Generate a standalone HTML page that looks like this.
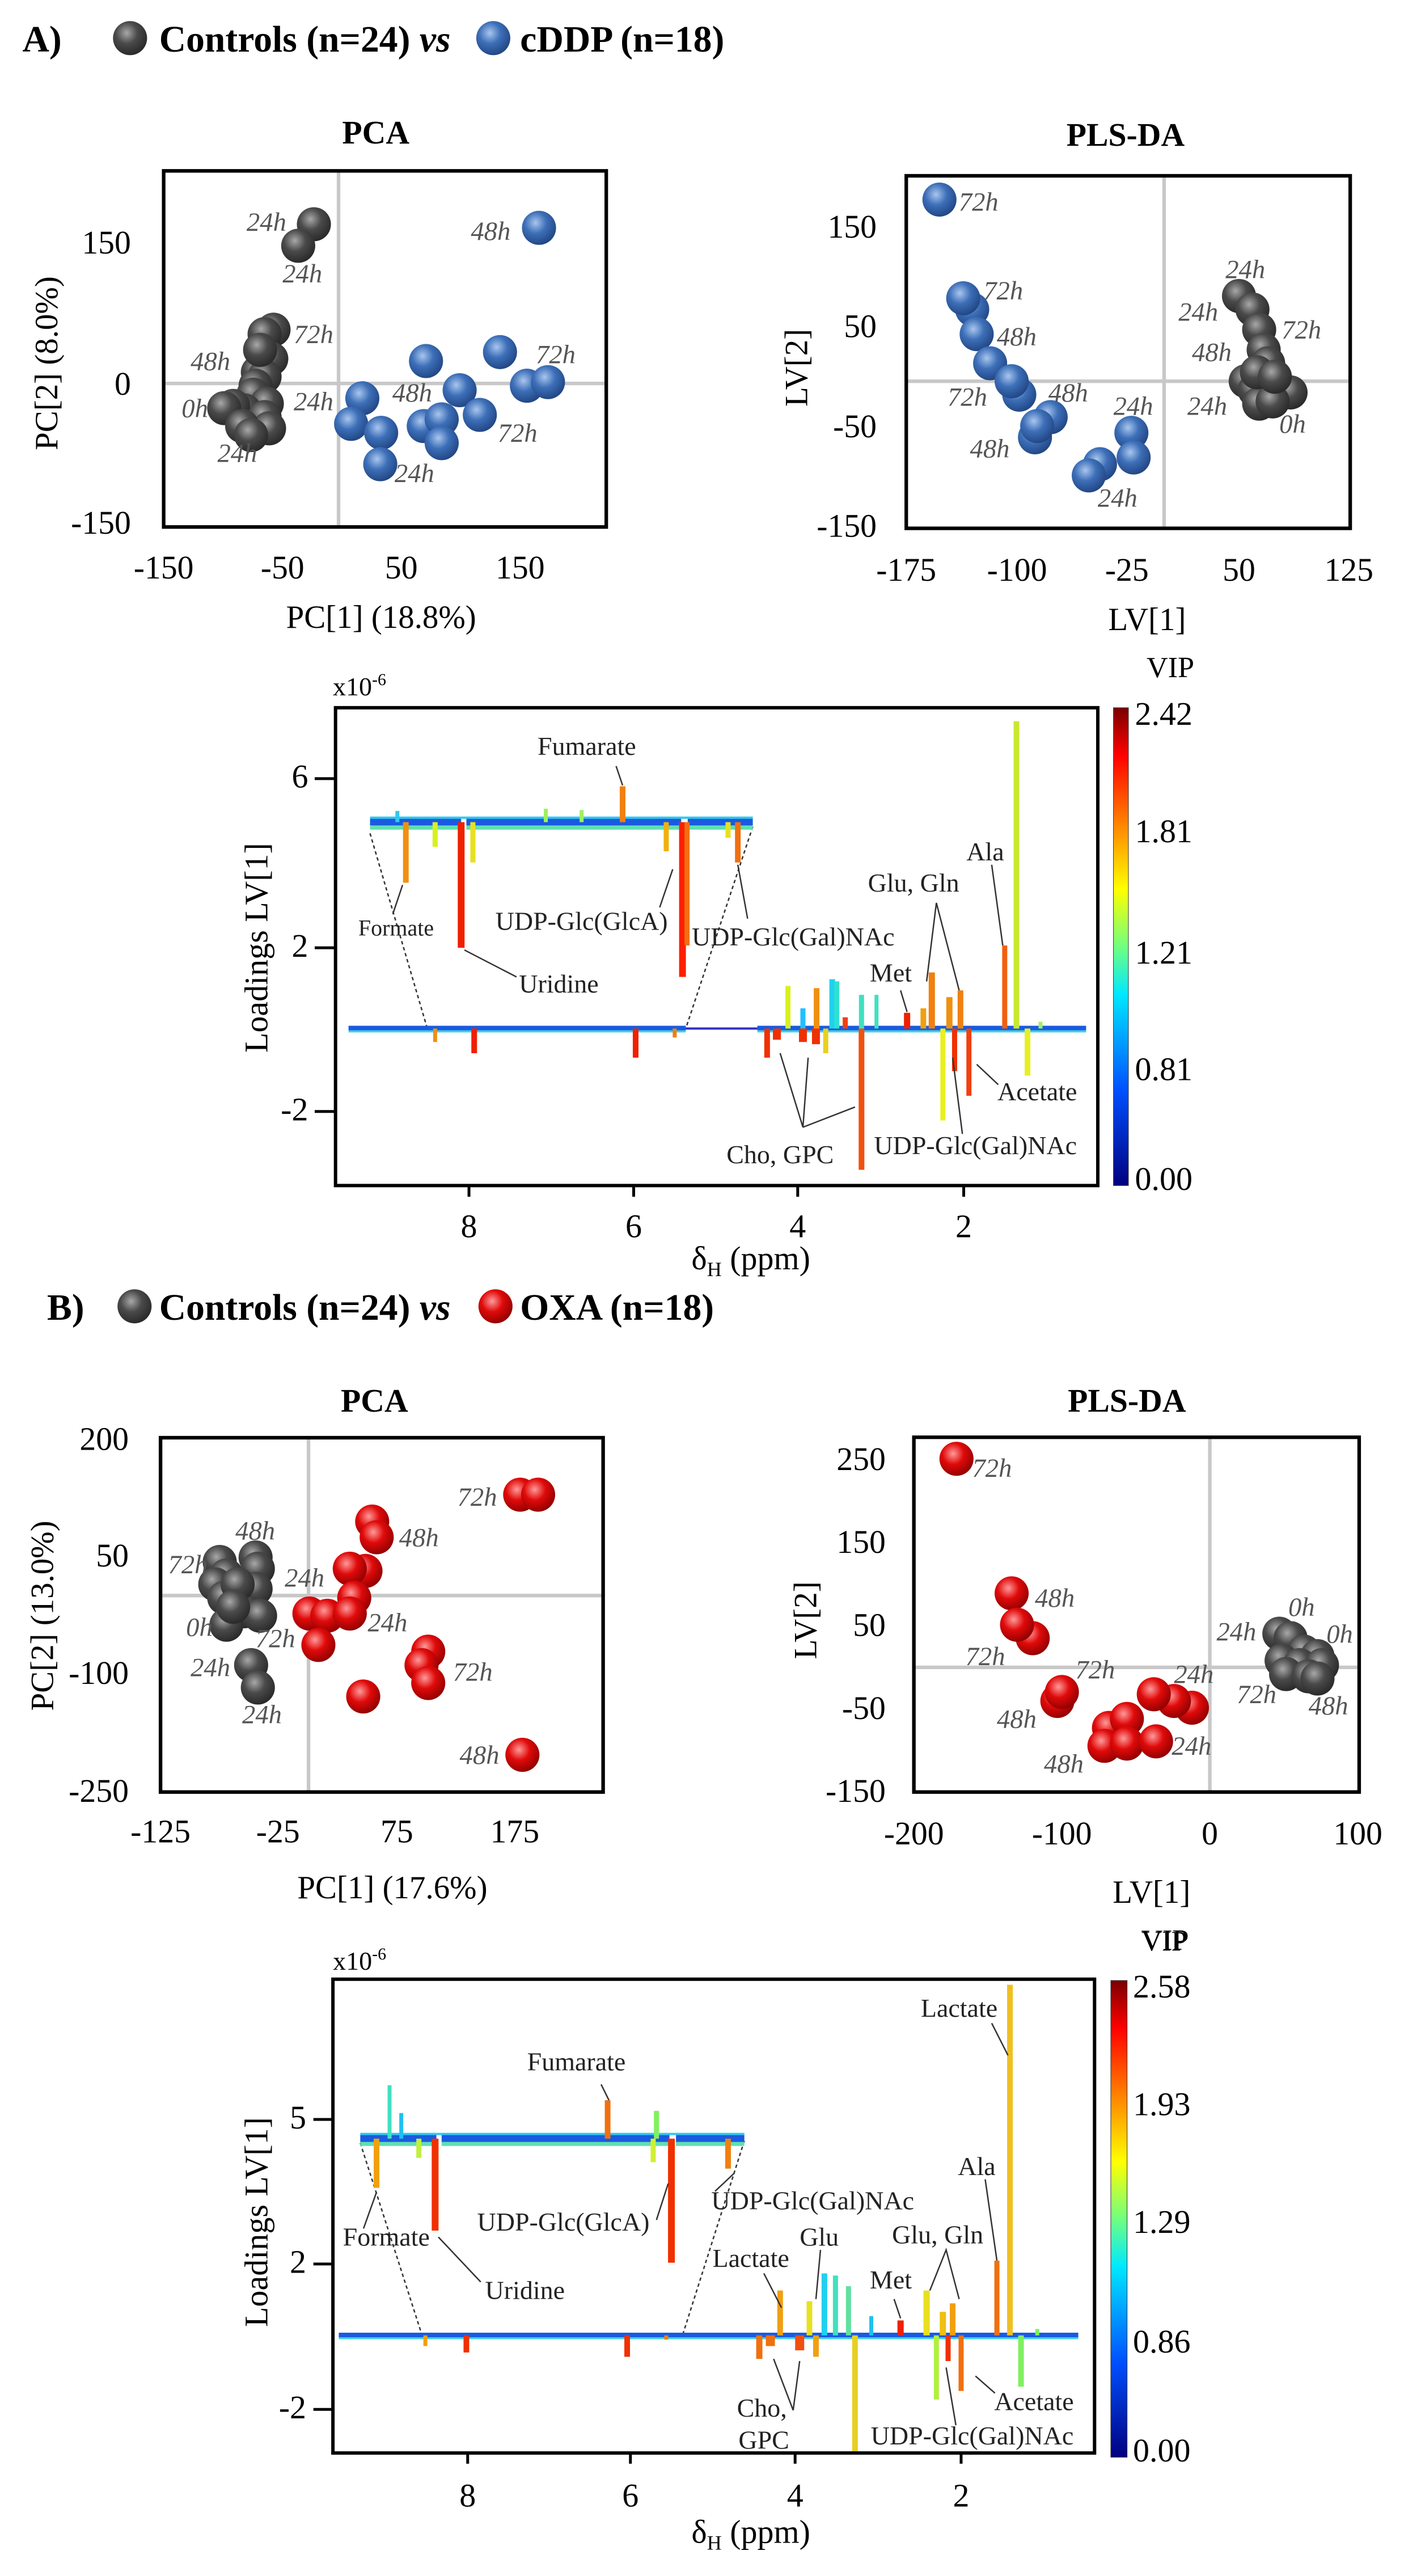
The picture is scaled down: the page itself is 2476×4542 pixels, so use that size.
<!DOCTYPE html>
<html><head><meta charset="utf-8"><style>
html,body{margin:0;padding:0;background:#fff}
svg{display:block;font-family:"Liberation Serif",serif}
</style></head><body>
<svg width="2476" height="4542" viewBox="0 0 2476 4542" xmlns="http://www.w3.org/2000/svg">
<defs>
<radialGradient id="gG" cx="0.4" cy="0.35" r="0.7"><stop offset="0" stop-color="#a8a8a8"/><stop offset="0.45" stop-color="#4a4a4a"/><stop offset="1" stop-color="#262626"/></radialGradient>
<radialGradient id="gB" cx="0.4" cy="0.35" r="0.7"><stop offset="0" stop-color="#a9c6ee"/><stop offset="0.45" stop-color="#3d6fb8"/><stop offset="1" stop-color="#1f427f"/></radialGradient>
<radialGradient id="gR" cx="0.4" cy="0.35" r="0.7"><stop offset="0" stop-color="#ff9a9a"/><stop offset="0.45" stop-color="#e00a0a"/><stop offset="1" stop-color="#8a0000"/></radialGradient>
<linearGradient id="jet" x1="0" y1="0" x2="0" y2="1">
<stop offset="0" stop-color="#7a0000"/><stop offset="0.1" stop-color="#ff0000"/><stop offset="0.25" stop-color="#ff8a00"/><stop offset="0.38" stop-color="#ffff00"/><stop offset="0.5" stop-color="#70ff80"/><stop offset="0.6" stop-color="#00e8ff"/><stop offset="0.8" stop-color="#0050ff"/><stop offset="1" stop-color="#000080"/>
</linearGradient>
<style>
.ns{vector-effect:non-scaling-stroke}
.pl{font-style:italic;fill:#555}
</style>
</defs>

<!-- ============ A header + PCA A (zoom2 coords) ============ -->
<g transform="scale(0.7908)">
<text x="50" y="115" font-size="83" font-weight="bold">A)</text>
<circle cx="290" cy="85" r="38" fill="url(#gG)"/>
<text x="355" y="115" font-size="83" font-weight="bold">Controls (n=24) <tspan font-style="italic">vs</tspan></text>
<circle cx="1100" cy="85" r="38" fill="url(#gB)"/>
<text x="1160" y="115" font-size="83" font-weight="bold">cDDP (n=18)</text>

<text x="838" y="320" font-size="73" font-weight="bold" text-anchor="middle">PCA</text>
<line x1="755" y1="381" x2="755" y2="1175" stroke="#c8c8c8" stroke-width="8"/>
<line x1="365" y1="855" x2="1352" y2="855" stroke="#c8c8c8" stroke-width="8"/>
<g font-size="73" text-anchor="middle">
<text x="365" y="1290">-150</text><text x="630" y="1290">-50</text><text x="895" y="1290">50</text><text x="1160" y="1290">150</text>
</g>
<g font-size="73" text-anchor="end">
<text x="292" y="565">150</text><text x="292" y="880">0</text><text x="292" y="1190">-150</text>
</g>
<text x="850" y="1400" font-size="72" text-anchor="middle">PC[1] (18.8%)</text>
<text transform="translate(128,810) rotate(-90)" font-size="72" text-anchor="middle">PC[2] (8.0%)</text>
<g>
<circle cx="700" cy="500" r="38" fill="url(#gG)"/><circle cx="665" cy="548" r="38" fill="url(#gG)"/>
<circle cx="610" cy="735" r="38" fill="url(#gG)"/><circle cx="590" cy="745" r="38" fill="url(#gG)"/>
<circle cx="605" cy="800" r="38" fill="url(#gG)"/><circle cx="575" cy="830" r="38" fill="url(#gG)"/>
<circle cx="590" cy="840" r="38" fill="url(#gG)"/><circle cx="580" cy="780" r="38" fill="url(#gG)"/>
<circle cx="570" cy="860" r="38" fill="url(#gG)"/><circle cx="565" cy="880" r="38" fill="url(#gG)"/>
<circle cx="595" cy="900" r="38" fill="url(#gG)"/><circle cx="545" cy="915" r="38" fill="url(#gG)"/>
<circle cx="520" cy="905" r="38" fill="url(#gG)"/><circle cx="500" cy="910" r="38" fill="url(#gG)"/>
<circle cx="590" cy="930" r="38" fill="url(#gG)"/><circle cx="600" cy="955" r="38" fill="url(#gG)"/>
<circle cx="540" cy="950" r="38" fill="url(#gG)"/><circle cx="560" cy="970" r="38" fill="url(#gG)"/>
<circle cx="1202" cy="508" r="38" fill="url(#gB)"/><circle cx="950" cy="805" r="38" fill="url(#gB)"/>
<circle cx="1115" cy="785" r="38" fill="url(#gB)"/><circle cx="1175" cy="860" r="38" fill="url(#gB)"/>
<circle cx="1222" cy="852" r="38" fill="url(#gB)"/><circle cx="1025" cy="870" r="38" fill="url(#gB)"/>
<circle cx="1070" cy="925" r="38" fill="url(#gB)"/><circle cx="945" cy="950" r="38" fill="url(#gB)"/>
<circle cx="985" cy="935" r="38" fill="url(#gB)"/><circle cx="985" cy="988" r="38" fill="url(#gB)"/>
<circle cx="808" cy="888" r="38" fill="url(#gB)"/><circle cx="783" cy="945" r="38" fill="url(#gB)"/>
<circle cx="850" cy="965" r="38" fill="url(#gB)"/><circle cx="848" cy="1035" r="38" fill="url(#gB)"/>
</g>
<g class="pl" font-size="59">
<text x="550" y="515">24h</text><text x="630" y="630">24h</text><text x="655" y="765">72h</text>
<text x="425" y="825">48h</text><text x="405" y="930">0h</text><text x="655" y="915">24h</text>
<text x="485" y="1030">24h</text><text x="1050" y="535">48h</text><text x="1195" y="810">72h</text>
<text x="875" y="895">48h</text><text x="1110" y="985">72h</text><text x="880" y="1075">24h</text>
</g>
<rect x="365" y="381" width="987" height="794" fill="none" stroke="#000" stroke-width="8"/>
</g>

<!-- ============ PLS-DA A (zoom3) ============ -->
<g transform="translate(1240,0) scale(0.7908)">
<text x="942" y="325" font-size="73" font-weight="bold" text-anchor="middle">PLS-DA</text>
<line x1="1028" y1="392" x2="1028" y2="1178" stroke="#c8c8c8" stroke-width="8"/>
<line x1="453" y1="850" x2="1443" y2="850" stroke="#c8c8c8" stroke-width="8"/>
<g font-size="73" text-anchor="middle">
<text x="453" y="1295">-175</text><text x="700" y="1295">-100</text><text x="945" y="1295">-25</text><text x="1195" y="1295">50</text><text x="1440" y="1295">125</text>
</g>
<g font-size="73" text-anchor="end">
<text x="387" y="530">150</text><text x="387" y="752">50</text><text x="387" y="975">-50</text><text x="387" y="1197">-150</text>
</g>
<text x="990" y="1405" font-size="72" text-anchor="middle">LV[1]</text>
<text transform="translate(232,820) rotate(-90)" font-size="72" text-anchor="middle">LV[2]</text>
<text x="1042" y="1510" font-size="66" text-anchor="middle">VIP</text>
<g>
<circle cx="1195" cy="660" r="38" fill="url(#gG)"/><circle cx="1225" cy="690" r="38" fill="url(#gG)"/>
<circle cx="1240" cy="735" r="38" fill="url(#gG)"/><circle cx="1250" cy="780" r="38" fill="url(#gG)"/>
<circle cx="1260" cy="810" r="38" fill="url(#gG)"/><circle cx="1210" cy="850" r="38" fill="url(#gG)"/>
<circle cx="1230" cy="870" r="38" fill="url(#gG)"/><circle cx="1260" cy="880" r="38" fill="url(#gG)"/>
<circle cx="1290" cy="870" r="38" fill="url(#gG)"/><circle cx="1310" cy="875" r="38" fill="url(#gG)"/>
<circle cx="1240" cy="900" r="38" fill="url(#gG)"/><circle cx="1270" cy="895" r="38" fill="url(#gG)"/>
<circle cx="1235" cy="830" r="38" fill="url(#gG)"/><circle cx="1275" cy="840" r="38" fill="url(#gG)"/>
<circle cx="527" cy="445" r="38" fill="url(#gB)"/><circle cx="600" cy="690" r="38" fill="url(#gB)"/>
<circle cx="580" cy="665" r="38" fill="url(#gB)"/><circle cx="610" cy="745" r="38" fill="url(#gB)"/>
<circle cx="640" cy="810" r="38" fill="url(#gB)"/><circle cx="705" cy="880" r="38" fill="url(#gB)"/>
<circle cx="688" cy="850" r="38" fill="url(#gB)"/><circle cx="775" cy="930" r="38" fill="url(#gB)"/>
<circle cx="740" cy="975" r="38" fill="url(#gB)"/><circle cx="745" cy="950" r="38" fill="url(#gB)"/>
<circle cx="885" cy="1035" r="38" fill="url(#gB)"/><circle cx="860" cy="1060" r="38" fill="url(#gB)"/>
<circle cx="955" cy="965" r="38" fill="url(#gB)"/><circle cx="960" cy="1020" r="38" fill="url(#gB)"/>
</g>
<g class="pl" font-size="59">
<text x="570" y="470">72h</text><text x="625" y="668">72h</text><text x="655" y="770">48h</text>
<text x="545" y="905">72h</text><text x="770" y="895">48h</text><text x="595" y="1020">48h</text>
<text x="915" y="925">24h</text><text x="880" y="1130">24h</text><text x="1165" y="620">24h</text>
<text x="1060" y="715">24h</text><text x="1290" y="755">72h</text><text x="1090" y="805">48h</text>
<text x="1080" y="925">24h</text><text x="1285" y="965">0h</text>
</g>
<rect x="453" y="392" width="990" height="786" fill="none" stroke="#000" stroke-width="8"/>
</g>

<!-- ============ Loadings A ============ -->
<text x="587" y="1226" font-size="46">x10<tspan font-size="30" dy="-18">-6</tspan></text>
<g transform="translate(400,1240) scale(1.148,0.791)">
<g>
<line class="ns" x1="135" y1="168" x2="167" y2="168" stroke="#000" stroke-width="5"/><line class="ns" x1="135" y1="545" x2="167" y2="545" stroke="#000" stroke-width="5"/><line class="ns" x1="135" y1="910" x2="167" y2="910" stroke="#000" stroke-width="5"/>
<line class="ns" x1="372" y1="1075" x2="372" y2="1100" stroke="#000" stroke-width="5"/><line class="ns" x1="625" y1="1075" x2="625" y2="1100" stroke="#000" stroke-width="5"/><line class="ns" x1="877" y1="1075" x2="877" y2="1100" stroke="#000" stroke-width="5"/><line class="ns" x1="1132" y1="1075" x2="1132" y2="1100" stroke="#000" stroke-width="5"/>
</g>
<g font-size="58">
<text transform="translate(125,188) scale(0.871,1.264)" text-anchor="end">6</text>
<text transform="translate(125,565) scale(0.871,1.264)" text-anchor="end">2</text>
<text transform="translate(125,930) scale(0.871,1.264)" text-anchor="end">-2</text>
<text transform="translate(372,1190) scale(0.871,1.264)" text-anchor="middle">8</text>
<text transform="translate(625,1190) scale(0.871,1.264)" text-anchor="middle">6</text>
<text transform="translate(877,1190) scale(0.871,1.264)" text-anchor="middle">4</text>
<text transform="translate(1132,1190) scale(0.871,1.264)" text-anchor="middle">2</text>
<text transform="translate(805,1262) scale(0.871,1.264)" text-anchor="middle">δ<tspan font-size="36" dy="12">H</tspan><tspan dy="-12"> (ppm)</tspan></text>
<text transform="translate(45,545) scale(0.871,1.264) rotate(-90)" text-anchor="middle" dy="20">Loadings LV[1]</text>
<text transform="translate(1395,48) scale(0.871,1.264)">2.42</text>
<text transform="translate(1395,310) scale(0.871,1.264)">1.81</text>
<text transform="translate(1395,580) scale(0.871,1.264)">1.21</text>
<text transform="translate(1395,840) scale(0.871,1.264)">0.81</text>
<text transform="translate(1395,1085) scale(0.871,1.264)">0.00</text>
</g>
<rect x="1362" y="10" width="23" height="1065" fill="url(#jet)" stroke="#333" stroke-width="1" class="ns"/>
<line class="ns" x1="220" y1="290" x2="308" y2="725" stroke="#333" stroke-width="2.5" stroke-dasharray="6,5"/>
<line class="ns" x1="808" y1="275" x2="705" y2="725" stroke="#333" stroke-width="2.5" stroke-dasharray="6,5"/>
<g>
<line class="ns" x1="220" y1="276" x2="360" y2="276" stroke="#5fe0b0" stroke-width="9"/>
<line class="ns" x1="368" y1="276" x2="698" y2="276" stroke="#5fe0b0" stroke-width="9"/>
<line class="ns" x1="708" y1="276" x2="808" y2="276" stroke="#5fe0b0" stroke-width="9"/>
<line class="ns" x1="220" y1="264" x2="360" y2="264" stroke="#1a5ae0" stroke-width="13"/>
<line class="ns" x1="368" y1="264" x2="698" y2="264" stroke="#1a5ae0" stroke-width="13"/>
<line class="ns" x1="708" y1="264" x2="808" y2="264" stroke="#1a5ae0" stroke-width="13"/>
<line class="ns" x1="220" y1="255" x2="808" y2="255" stroke="#30c8f0" stroke-width="4"/>
</g>
<g>
<line class="ns" x1="608" y1="265" x2="608" y2="185" stroke="#f08010" stroke-width="10"/>
<line class="ns" x1="275" y1="265" x2="275" y2="400" stroke="#f09010" stroke-width="10"/>
<line class="ns" x1="360" y1="265" x2="360" y2="545" stroke="#f02000" stroke-width="12"/>
<line class="ns" x1="700" y1="265" x2="700" y2="610" stroke="#ff2000" stroke-width="12"/>
<line class="ns" x1="707" y1="265" x2="707" y2="540" stroke="#f07010" stroke-width="9"/>
<line class="ns" x1="785" y1="265" x2="785" y2="355" stroke="#f07010" stroke-width="10"/>
<line class="ns" x1="320" y1="265" x2="320" y2="320" stroke="#d8f020" stroke-width="9"/>
<line class="ns" x1="378" y1="265" x2="378" y2="355" stroke="#e8e020" stroke-width="9"/>
<line class="ns" x1="675" y1="265" x2="675" y2="330" stroke="#f0b010" stroke-width="9"/>
<line class="ns" x1="770" y1="265" x2="770" y2="300" stroke="#e8e020" stroke-width="9"/>
<line class="ns" x1="490" y1="265" x2="490" y2="235" stroke="#a0f060" stroke-width="7"/>
<line class="ns" x1="545" y1="265" x2="545" y2="238" stroke="#a0f060" stroke-width="7"/>
<line class="ns" x1="262" y1="265" x2="262" y2="240" stroke="#30c8f0" stroke-width="7"/>
</g>
<line class="ns" x1="187" y1="730" x2="705" y2="730" stroke="#40d0e0" stroke-width="6"/>
<line class="ns" x1="815" y1="730" x2="1320" y2="730" stroke="#40d0e0" stroke-width="6"/>
<line class="ns" x1="187" y1="724" x2="705" y2="724" stroke="#1a5ae0" stroke-width="8"/>
<line class="ns" x1="705" y1="725" x2="815" y2="725" stroke="#3030c8" stroke-width="4"/>
<line class="ns" x1="815" y1="724" x2="1320" y2="724" stroke="#1a5ae0" stroke-width="8"/>
<g>
<line class="ns" x1="862" y1="725" x2="862" y2="630" stroke="#d8f020" stroke-width="9"/>
<line class="ns" x1="885" y1="725" x2="885" y2="680" stroke="#20c0ff" stroke-width="9"/>
<line class="ns" x1="906" y1="725" x2="906" y2="635" stroke="#f09010" stroke-width="10"/>
<line class="ns" x1="930" y1="725" x2="930" y2="615" stroke="#20d0f0" stroke-width="10"/>
<line class="ns" x1="937" y1="725" x2="937" y2="620" stroke="#30e0d0" stroke-width="9"/>
<line class="ns" x1="950" y1="725" x2="950" y2="700" stroke="#f04010" stroke-width="9"/>
<line class="ns" x1="975" y1="725" x2="975" y2="650" stroke="#40e0c0" stroke-width="9"/>
<line class="ns" x1="998" y1="725" x2="998" y2="650" stroke="#40e0c0" stroke-width="7"/>
<line class="ns" x1="1045" y1="725" x2="1045" y2="690" stroke="#f02000" stroke-width="11"/>
<line class="ns" x1="1070" y1="725" x2="1070" y2="680" stroke="#f0a010" stroke-width="10"/>
<line class="ns" x1="1083" y1="725" x2="1083" y2="600" stroke="#f08010" stroke-width="11"/>
<line class="ns" x1="1110" y1="725" x2="1110" y2="655" stroke="#f09010" stroke-width="11"/>
<line class="ns" x1="1127" y1="725" x2="1127" y2="640" stroke="#f08010" stroke-width="10"/>
<line class="ns" x1="1195" y1="725" x2="1195" y2="540" stroke="#f06010" stroke-width="9"/>
<line class="ns" x1="1213" y1="725" x2="1213" y2="40" stroke="#c8e830" stroke-width="10"/>
<line class="ns" x1="1250" y1="725" x2="1250" y2="710" stroke="#a0f060" stroke-width="7"/>
<line class="ns" x1="320" y1="725" x2="320" y2="755" stroke="#f09010" stroke-width="7"/>
<line class="ns" x1="380" y1="725" x2="380" y2="780" stroke="#f02000" stroke-width="10"/>
<line class="ns" x1="628" y1="725" x2="628" y2="790" stroke="#f02000" stroke-width="10"/>
<line class="ns" x1="688" y1="725" x2="688" y2="745" stroke="#f08010" stroke-width="7"/>
<line class="ns" x1="830" y1="725" x2="830" y2="790" stroke="#f03000" stroke-width="10"/>
<line class="ns" x1="845" y1="725" x2="845" y2="750" stroke="#f03000" stroke-width="14"/>
<line class="ns" x1="885" y1="725" x2="885" y2="755" stroke="#f03000" stroke-width="14"/>
<line class="ns" x1="905" y1="725" x2="905" y2="760" stroke="#f03000" stroke-width="14"/>
<line class="ns" x1="920" y1="725" x2="920" y2="780" stroke="#e8d020" stroke-width="9"/>
<line class="ns" x1="975" y1="725" x2="975" y2="1040" stroke="#f05010" stroke-width="10"/>
<line class="ns" x1="1100" y1="725" x2="1100" y2="930" stroke="#e8f020" stroke-width="9"/>
<line class="ns" x1="1118" y1="725" x2="1118" y2="820" stroke="#f03000" stroke-width="9"/>
<line class="ns" x1="1140" y1="725" x2="1140" y2="875" stroke="#f04010" stroke-width="9"/>
<line class="ns" x1="1230" y1="725" x2="1230" y2="830" stroke="#e8f020" stroke-width="10"/>
</g>
<g stroke="#333" fill="none">
<line class="ns" x1="598" y1="140" x2="608" y2="183" stroke-width="2.5"/>
<line class="ns" x1="270" y1="405" x2="255" y2="470" stroke-width="2.5"/>
<line class="ns" x1="685" y1="370" x2="665" y2="455" stroke-width="2.5"/>
<line class="ns" x1="785" y1="360" x2="800" y2="480" stroke-width="2.5"/>
<line class="ns" x1="365" y1="550" x2="445" y2="610" stroke-width="2.5"/>
<line class="ns" x1="1175" y1="360" x2="1192" y2="540" stroke-width="2.5"/>
<polyline class="ns" points="1075,620 1090,445 1125,640" stroke-width="2.5"/>
<line class="ns" x1="1035" y1="640" x2="1045" y2="688" stroke-width="2.5"/>
<line class="ns" x1="1185" y1="850" x2="1152" y2="805" stroke-width="2.5"/>
<line class="ns" x1="1130" y1="960" x2="1115" y2="790" stroke-width="2.5"/>
<polyline class="ns" points="850,780 885,945 893,790" stroke-width="2.5"/>
<line class="ns" x1="885" y1="945" x2="965" y2="900" stroke-width="2.5"/>
</g>
<g font-size="46" fill="#222" text-anchor="middle">
<text transform="translate(553,115) scale(0.871,1.264)">Fumarate</text>
<text transform="translate(260,518) scale(0.871,1.264)" font-size="40">Formate</text>
<text transform="translate(545,505) scale(0.871,1.264)">UDP-Glc(GlcA)</text>
<text transform="translate(870,540) scale(0.871,1.264)">UDP-Glc(Gal)NAc</text>
<text transform="translate(510,645) scale(0.871,1.264)">Uridine</text>
<text transform="translate(1165,350) scale(0.871,1.264)">Ala</text>
<text transform="translate(1055,420) scale(0.871,1.264)">Glu, Gln</text>
<text transform="translate(1020,620) scale(0.871,1.264)">Met</text>
<text transform="translate(1245,885) scale(0.871,1.264)">Acetate</text>
<text transform="translate(1150,1005) scale(0.871,1.264)">UDP-Glc(Gal)NAc</text>
<text transform="translate(850,1025) scale(0.871,1.264)">Cho, GPC</text>
</g>
<rect class="ns" x="167" y="10" width="1171" height="1065" fill="none" stroke="#000" stroke-width="6"/>
</g>

<!-- ============ B header + PCA B (zoom5) ============ -->
<g transform="translate(0,2240) scale(0.7908)">
<text x="105" y="110" font-size="83" font-weight="bold">B)</text>
<circle cx="300" cy="80" r="38" fill="url(#gG)"/>
<text x="355" y="110" font-size="83" font-weight="bold">Controls (n=24) <tspan font-style="italic">vs</tspan></text>
<circle cx="1105" cy="80" r="38" fill="url(#gR)"/>
<text x="1160" y="110" font-size="83" font-weight="bold">OXA (n=18)</text>

<text x="835" y="315" font-size="73" font-weight="bold" text-anchor="middle">PCA</text>
<line x1="688" y1="373" x2="688" y2="1163" stroke="#c8c8c8" stroke-width="8"/>
<line x1="358" y1="725" x2="1345" y2="725" stroke="#c8c8c8" stroke-width="8"/>
<g font-size="73" text-anchor="middle">
<text x="358" y="1275">-125</text><text x="620" y="1275">-25</text><text x="885" y="1275">75</text><text x="1148" y="1275">175</text>
</g>
<g font-size="73" text-anchor="end">
<text x="287" y="400">200</text><text x="287" y="660">50</text><text x="287" y="922">-100</text><text x="287" y="1185">-250</text>
</g>
<text x="875" y="1400" font-size="72" text-anchor="middle">PC[1] (17.6%)</text>
<text transform="translate(118,770) rotate(-90)" font-size="72" text-anchor="middle">PC[2] (13.0%)</text>
<g>
<circle cx="490" cy="650" r="38" fill="url(#gG)"/><circle cx="505" cy="680" r="38" fill="url(#gG)"/>
<circle cx="570" cy="640" r="38" fill="url(#gG)"/><circle cx="575" cy="665" r="38" fill="url(#gG)"/>
<circle cx="480" cy="700" r="38" fill="url(#gG)"/><circle cx="500" cy="730" r="38" fill="url(#gG)"/>
<circle cx="570" cy="710" r="38" fill="url(#gG)"/><circle cx="545" cy="760" r="38" fill="url(#gG)"/>
<circle cx="580" cy="770" r="38" fill="url(#gG)"/><circle cx="505" cy="790" r="38" fill="url(#gG)"/>
<circle cx="530" cy="700" r="38" fill="url(#gG)"/><circle cx="520" cy="750" r="38" fill="url(#gG)"/>
<circle cx="560" cy="880" r="38" fill="url(#gG)"/><circle cx="575" cy="930" r="38" fill="url(#gG)"/>
<circle cx="1160" cy="500" r="38" fill="url(#gR)"/><circle cx="1200" cy="500" r="38" fill="url(#gR)"/>
<circle cx="830" cy="560" r="38" fill="url(#gR)"/><circle cx="840" cy="595" r="38" fill="url(#gR)"/>
<circle cx="815" cy="670" r="38" fill="url(#gR)"/><circle cx="780" cy="665" r="38" fill="url(#gR)"/>
<circle cx="790" cy="730" r="38" fill="url(#gR)"/><circle cx="690" cy="765" r="38" fill="url(#gR)"/>
<circle cx="730" cy="770" r="38" fill="url(#gR)"/><circle cx="780" cy="765" r="38" fill="url(#gR)"/>
<circle cx="710" cy="835" r="38" fill="url(#gR)"/><circle cx="955" cy="850" r="38" fill="url(#gR)"/>
<circle cx="940" cy="880" r="38" fill="url(#gR)"/><circle cx="955" cy="920" r="38" fill="url(#gR)"/>
<circle cx="810" cy="950" r="38" fill="url(#gR)"/><circle cx="1165" cy="1080" r="38" fill="url(#gR)"/>
</g>
<g class="pl" font-size="59">
<text x="525" y="600">48h</text><text x="375" y="675">72h</text><text x="415" y="815">0h</text>
<text x="570" y="840">72h</text><text x="425" y="905">24h</text><text x="540" y="1010">24h</text>
<text x="635" y="705">24h</text><text x="1020" y="525">72h</text><text x="890" y="615">48h</text>
<text x="820" y="805">24h</text><text x="1010" y="915">72h</text><text x="1025" y="1100">48h</text>
</g>
<rect x="358" y="373" width="987" height="790" fill="none" stroke="#000" stroke-width="8"/>
</g>

<!-- ============ PLS-DA B (zoom6) ============ -->
<g transform="translate(1240,2240) scale(0.7908)">
<text x="945" y="315" font-size="73" font-weight="bold" text-anchor="middle">PLS-DA</text>
<line x1="1130" y1="372" x2="1130" y2="1163" stroke="#c8c8c8" stroke-width="8"/>
<line x1="470" y1="885" x2="1463" y2="885" stroke="#c8c8c8" stroke-width="8"/>
<g font-size="73" text-anchor="middle">
<text x="470" y="1280">-200</text><text x="800" y="1280">-100</text><text x="1130" y="1280">0</text><text x="1460" y="1280">100</text>
</g>
<g font-size="73" text-anchor="end">
<text x="407" y="445">250</text><text x="407" y="630">150</text><text x="407" y="815">50</text><text x="407" y="1000">-50</text><text x="407" y="1185">-150</text>
</g>
<text x="1000" y="1410" font-size="72" text-anchor="middle">LV[1]</text>
<text transform="translate(252,780) rotate(-90)" font-size="72" text-anchor="middle">LV[2]</text>
<text x="1030" y="1515" font-size="66" text-anchor="middle">VIP</text>
<g>
<circle cx="1285" cy="810" r="38" fill="url(#gG)"/><circle cx="1310" cy="820" r="38" fill="url(#gG)"/>
<circle cx="1340" cy="850" r="38" fill="url(#gG)"/><circle cx="1370" cy="860" r="38" fill="url(#gG)"/>
<circle cx="1290" cy="870" r="38" fill="url(#gG)"/><circle cx="1330" cy="880" r="38" fill="url(#gG)"/>
<circle cx="1380" cy="880" r="38" fill="url(#gG)"/><circle cx="1300" cy="900" r="38" fill="url(#gG)"/>
<circle cx="1350" cy="905" r="38" fill="url(#gG)"/><circle cx="1370" cy="910" r="38" fill="url(#gG)"/>
<circle cx="565" cy="420" r="38" fill="url(#gR)"/><circle cx="688" cy="720" r="38" fill="url(#gR)"/>
<circle cx="735" cy="820" r="38" fill="url(#gR)"/><circle cx="700" cy="790" r="38" fill="url(#gR)"/>
<circle cx="790" cy="960" r="38" fill="url(#gR)"/><circle cx="800" cy="940" r="38" fill="url(#gR)"/>
<circle cx="905" cy="1020" r="38" fill="url(#gR)"/><circle cx="945" cy="1000" r="38" fill="url(#gR)"/>
<circle cx="895" cy="1060" r="38" fill="url(#gR)"/><circle cx="945" cy="1055" r="38" fill="url(#gR)"/>
<circle cx="1090" cy="975" r="38" fill="url(#gR)"/><circle cx="1050" cy="960" r="38" fill="url(#gR)"/>
<circle cx="1005" cy="945" r="38" fill="url(#gR)"/><circle cx="1010" cy="1050" r="38" fill="url(#gR)"/>
</g>
<g class="pl" font-size="59">
<text x="600" y="460">72h</text><text x="740" y="750">48h</text><text x="585" y="880">72h</text>
<text x="830" y="910">72h</text><text x="1050" y="920">24h</text><text x="655" y="1020">48h</text>
<text x="760" y="1120">48h</text><text x="1045" y="1080">24h</text><text x="1145" y="825">24h</text>
<text x="1305" y="770">0h</text><text x="1390" y="830">0h</text><text x="1190" y="965">72h</text>
<text x="1350" y="990">48h</text>
</g>
<rect x="470" y="372" width="993" height="791" fill="none" stroke="#000" stroke-width="8"/>
</g>

<!-- ============ Loadings B ============ -->
<g transform="translate(400,3360) scale(1.148,0.754)">
<g font-size="46">
<text transform="translate(163,150) scale(0.871,1.326)">x10<tspan font-size="30" dy="-18">-6</tspan></text>
</g>
<g>
<line class="ns" x1="133" y1="500" x2="163" y2="500" stroke="#000" stroke-width="5"/><line class="ns" x1="133" y1="838" x2="163" y2="838" stroke="#000" stroke-width="5"/><line class="ns" x1="133" y1="1178" x2="163" y2="1178" stroke="#000" stroke-width="5"/>
<line class="ns" x1="370" y1="1280" x2="370" y2="1305" stroke="#000" stroke-width="5"/><line class="ns" x1="620" y1="1280" x2="620" y2="1305" stroke="#000" stroke-width="5"/><line class="ns" x1="873" y1="1280" x2="873" y2="1305" stroke="#000" stroke-width="5"/><line class="ns" x1="1128" y1="1280" x2="1128" y2="1305" stroke="#000" stroke-width="5"/>
</g>
<g font-size="58">
<text transform="translate(122,521) scale(0.871,1.326)" text-anchor="end">5</text>
<text transform="translate(122,859) scale(0.871,1.326)" text-anchor="end">2</text>
<text transform="translate(122,1199) scale(0.871,1.326)" text-anchor="end">-2</text>
<text transform="translate(370,1405) scale(0.871,1.326)" text-anchor="middle">8</text>
<text transform="translate(620,1405) scale(0.871,1.326)" text-anchor="middle">6</text>
<text transform="translate(873,1405) scale(0.871,1.326)" text-anchor="middle">4</text>
<text transform="translate(1128,1405) scale(0.871,1.326)" text-anchor="middle">2</text>
<text transform="translate(805,1490) scale(0.871,1.326)" text-anchor="middle">δ<tspan font-size="36" dy="12">H</tspan><tspan dy="-12"> (ppm)</tspan></text>
<text transform="translate(45,740) scale(0.871,1.326) rotate(-90)" text-anchor="middle" dy="20">Loadings LV[1]</text>
<text transform="translate(1392,215) scale(0.871,1.326)">2.58</text>
<text transform="translate(1392,490) scale(0.871,1.326)">1.93</text>
<text transform="translate(1392,765) scale(0.871,1.326)">1.29</text>
<text transform="translate(1392,1045) scale(0.871,1.326)">0.86</text>
<text transform="translate(1392,1300) scale(0.871,1.326)">0.00</text>
<text transform="translate(1440,105) scale(0.871,1.326)" text-anchor="middle" font-size="50">VIP</text>
</g>
<rect x="1358" y="175" width="25" height="1115" fill="url(#jet)" stroke="#333" stroke-width="1" class="ns"/>
<line class="ns" x1="205" y1="555" x2="300" y2="1005" stroke="#333" stroke-width="2.5" stroke-dasharray="6,5"/>
<line class="ns" x1="795" y1="550" x2="700" y2="1005" stroke="#333" stroke-width="2.5" stroke-dasharray="6,5"/>
<g>
<line class="ns" x1="205" y1="556" x2="322" y2="556" stroke="#5fe0b0" stroke-width="9"/>
<line class="ns" x1="330" y1="556" x2="680" y2="556" stroke="#5fe0b0" stroke-width="9"/>
<line class="ns" x1="690" y1="556" x2="795" y2="556" stroke="#5fe0b0" stroke-width="9"/>
<line class="ns" x1="205" y1="544" x2="322" y2="544" stroke="#1a5ae0" stroke-width="13"/>
<line class="ns" x1="330" y1="544" x2="680" y2="544" stroke="#1a5ae0" stroke-width="13"/>
<line class="ns" x1="690" y1="544" x2="795" y2="544" stroke="#1a5ae0" stroke-width="13"/>
<line class="ns" x1="205" y1="534" x2="795" y2="534" stroke="#30c8f0" stroke-width="4"/>
</g>
<g>
<line class="ns" x1="585" y1="545" x2="585" y2="455" stroke="#f07010" stroke-width="10"/>
<line class="ns" x1="230" y1="545" x2="230" y2="660" stroke="#f0a010" stroke-width="10"/>
<line class="ns" x1="320" y1="545" x2="320" y2="760" stroke="#f03000" stroke-width="12"/>
<line class="ns" x1="683" y1="545" x2="683" y2="835" stroke="#f03000" stroke-width="12"/>
<line class="ns" x1="770" y1="545" x2="770" y2="615" stroke="#f08010" stroke-width="10"/>
<line class="ns" x1="250" y1="545" x2="250" y2="420" stroke="#40e0c0" stroke-width="7"/>
<line class="ns" x1="268" y1="545" x2="268" y2="485" stroke="#20c0f0" stroke-width="7"/>
<line class="ns" x1="660" y1="545" x2="660" y2="480" stroke="#80f060" stroke-width="9"/>
<line class="ns" x1="295" y1="545" x2="295" y2="590" stroke="#c0f040" stroke-width="9"/>
<line class="ns" x1="655" y1="545" x2="655" y2="600" stroke="#d0f030" stroke-width="9"/>
</g>
<line class="ns" x1="172" y1="1010" x2="1308" y2="1010" stroke="#40d0e0" stroke-width="6"/>
<line class="ns" x1="172" y1="1004" x2="1308" y2="1004" stroke="#1a5ae0" stroke-width="8"/>
<g>
<line class="ns" x1="850" y1="1005" x2="850" y2="900" stroke="#f0a010" stroke-width="10"/>
<line class="ns" x1="895" y1="1005" x2="895" y2="925" stroke="#e8e020" stroke-width="10"/>
<line class="ns" x1="918" y1="1005" x2="918" y2="860" stroke="#20d0f0" stroke-width="10"/>
<line class="ns" x1="935" y1="1005" x2="935" y2="865" stroke="#40e0c0" stroke-width="9"/>
<line class="ns" x1="955" y1="1005" x2="955" y2="890" stroke="#60e0a0" stroke-width="9"/>
<line class="ns" x1="990" y1="1005" x2="990" y2="960" stroke="#20c0f0" stroke-width="7"/>
<line class="ns" x1="1035" y1="1005" x2="1035" y2="970" stroke="#f02000" stroke-width="11"/>
<line class="ns" x1="1075" y1="1005" x2="1075" y2="900" stroke="#e8e020" stroke-width="11"/>
<line class="ns" x1="1100" y1="1005" x2="1100" y2="950" stroke="#f0c010" stroke-width="11"/>
<line class="ns" x1="1115" y1="1005" x2="1115" y2="930" stroke="#f0a010" stroke-width="10"/>
<line class="ns" x1="1183" y1="1005" x2="1183" y2="830" stroke="#f07010" stroke-width="9"/>
<line class="ns" x1="1203" y1="1005" x2="1203" y2="185" stroke="#f0c020" stroke-width="10"/>
<line class="ns" x1="1245" y1="1005" x2="1245" y2="990" stroke="#80f060" stroke-width="7"/>
<line class="ns" x1="305" y1="1005" x2="305" y2="1030" stroke="#f0a010" stroke-width="7"/>
<line class="ns" x1="368" y1="1005" x2="368" y2="1045" stroke="#f03000" stroke-width="10"/>
<line class="ns" x1="615" y1="1005" x2="615" y2="1055" stroke="#f03000" stroke-width="10"/>
<line class="ns" x1="675" y1="1005" x2="675" y2="1015" stroke="#f08010" stroke-width="7"/>
<line class="ns" x1="818" y1="1005" x2="818" y2="1060" stroke="#f07010" stroke-width="11"/>
<line class="ns" x1="835" y1="1005" x2="835" y2="1030" stroke="#f07010" stroke-width="16"/>
<line class="ns" x1="880" y1="1005" x2="880" y2="1040" stroke="#f05010" stroke-width="16"/>
<line class="ns" x1="905" y1="1005" x2="905" y2="1055" stroke="#f0a010" stroke-width="10"/>
<line class="ns" x1="965" y1="1005" x2="965" y2="1280" stroke="#e8d020" stroke-width="10"/>
<line class="ns" x1="1090" y1="1005" x2="1090" y2="1155" stroke="#b0f040" stroke-width="9"/>
<line class="ns" x1="1108" y1="1005" x2="1108" y2="1065" stroke="#f03000" stroke-width="9"/>
<line class="ns" x1="1128" y1="1005" x2="1128" y2="1135" stroke="#f07010" stroke-width="9"/>
<line class="ns" x1="1220" y1="1005" x2="1220" y2="1125" stroke="#80f060" stroke-width="10"/>
</g>
<g stroke="#333" fill="none">
<line class="ns" x1="1175" y1="275" x2="1200" y2="350" stroke-width="2.5"/>
<line class="ns" x1="575" y1="418" x2="587" y2="455" stroke-width="2.5"/>
<line class="ns" x1="780" y1="625" x2="750" y2="668" stroke-width="2.5"/>
<line class="ns" x1="230" y1="670" x2="210" y2="755" stroke-width="2.5"/>
<line class="ns" x1="678" y1="650" x2="660" y2="735" stroke-width="2.5"/>
<line class="ns" x1="325" y1="775" x2="390" y2="880" stroke-width="2.5"/>
<line class="ns" x1="825" y1="860" x2="852" y2="940" stroke-width="2.5"/>
<line class="ns" x1="912" y1="805" x2="905" y2="920" stroke-width="2.5"/>
<line class="ns" x1="1025" y1="920" x2="1035" y2="965" stroke-width="2.5"/>
<polyline class="ns" points="1080,900 1105,805 1125,920" stroke-width="2.5"/>
<line class="ns" x1="1165" y1="640" x2="1183" y2="830" stroke-width="2.5"/>
<line class="ns" x1="1180" y1="1140" x2="1150" y2="1100" stroke-width="2.5"/>
<line class="ns" x1="1120" y1="1215" x2="1105" y2="1080" stroke-width="2.5"/>
<polyline class="ns" points="840,1060 870,1180 880,1065" stroke-width="2.5"/>
</g>
<g font-size="46" fill="#222" text-anchor="middle">
<text transform="translate(1125,260) scale(0.871,1.326)">Lactate</text>
<text transform="translate(537,385) scale(0.871,1.326)">Fumarate</text>
<text transform="translate(900,710) scale(0.871,1.326)">UDP-Glc(Gal)NAc</text>
<text transform="translate(245,795) scale(0.871,1.326)">Formate</text>
<text transform="translate(517,760) scale(0.871,1.326)">UDP-Glc(GlcA)</text>
<text transform="translate(458,920) scale(0.871,1.326)">Uridine</text>
<text transform="translate(805,845) scale(0.871,1.326)">Lactate</text>
<text transform="translate(910,795) scale(0.871,1.326)">Glu</text>
<text transform="translate(1020,895) scale(0.871,1.326)">Met</text>
<text transform="translate(1092,790) scale(0.871,1.326)">Glu, Gln</text>
<text transform="translate(1152,630) scale(0.871,1.326)">Ala</text>
<text transform="translate(1240,1180) scale(0.871,1.326)">Acetate</text>
<text transform="translate(1145,1260) scale(0.871,1.326)">UDP-Glc(Gal)NAc</text>
<text transform="translate(822,1195) scale(0.871,1.326)">Cho,</text>
<text transform="translate(825,1270) scale(0.871,1.326)">GPC</text>
</g>
<rect class="ns" x="163" y="172" width="1170" height="1108" fill="none" stroke="#000" stroke-width="6"/>
</g>
</svg>
</body></html>
